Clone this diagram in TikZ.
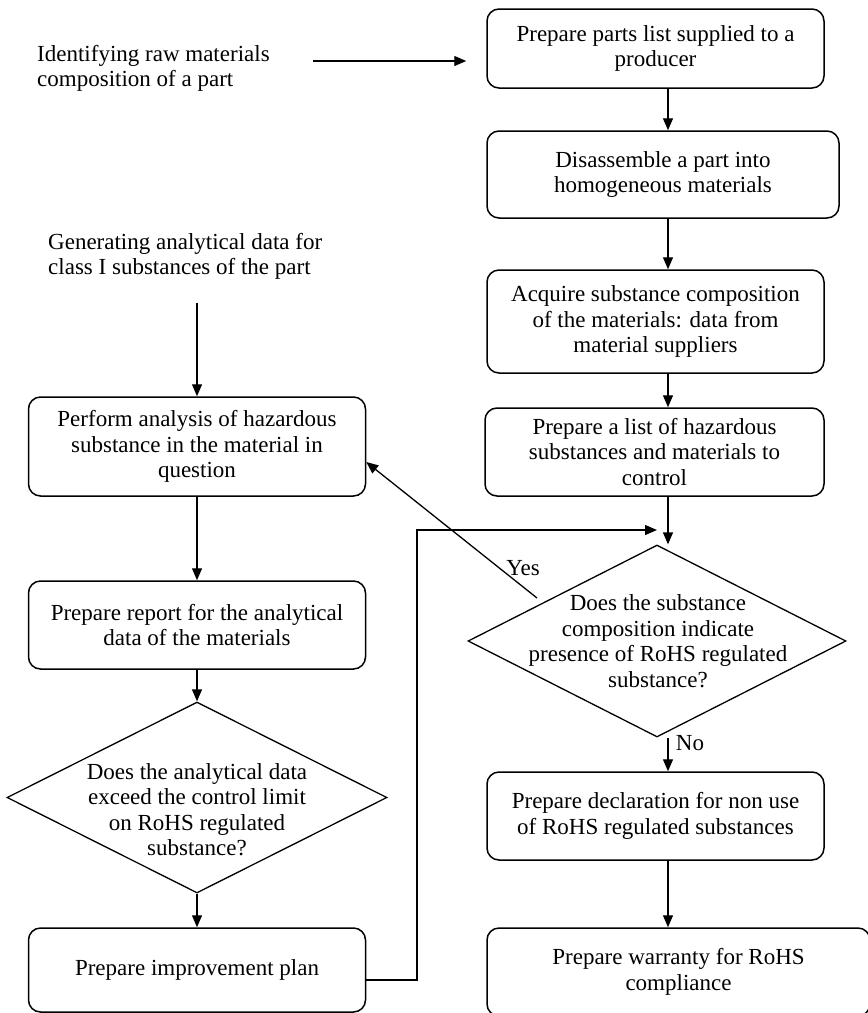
\documentclass[tikz,border=0pt]{standalone}
\usepackage{fontspec}
\setmainfont{Liberation Serif}
\usetikzlibrary{arrows.meta,shapes.geometric}
\begin{document}
\begin{tikzpicture}[x=1pt,y=-1pt,
  txt/.style={font=\fontsize{23}{25.5}\selectfont, inner sep=0pt},
  stepbox/.style={txt, draw, line width=1.5pt, rounded corners=12pt, align=center},
  decision/.style={draw, diamond, line width=1.3pt, inner sep=0pt},
  arr/.style={line width=1.3pt, -{Triangle[length=12pt,width=10pt]}}]
\useasboundingbox (0,0) rectangle (868,1013);
\clip (0,0) rectangle (868,1013);
\fill[white] (0,0) rectangle (868,1013);

% ---- right column: parts to warranty ----
\node[stepbox, minimum width=337pt, minimum height=79pt] (b1) at (655.5,48.5)
  {Prepare parts list supplied to a\\producer};
\node[stepbox, minimum width=352pt, minimum height=87pt] (b2) at (663,174.5)
  {Disassemble a part into\\homogeneous materials};
\node[stepbox, minimum width=337pt, minimum height=103pt] (b3) at (655.5,321.5)
  {Acquire substance composition\\of the materials: data from\\material suppliers};
\node[stepbox, minimum width=339pt, minimum height=88pt] (b4) at (654.5,452)
  {Prepare a list of hazardous\\substances and materials to\\control};
\node[decision, minimum width=378pt, minimum height=192pt] (d1) at (657,641) {};
\node[txt, align=center] (d1text) at (658,641)
  {Does the substance\\composition indicate\\presence of RoHS regulated\\substance?};
\node[stepbox, minimum width=337pt, minimum height=88pt] (b5) at (655.5,816)
  {Prepare declaration for non use\\of RoHS regulated substances};
\node[stepbox, minimum width=383pt, minimum height=88pt] (b6) at (678.5,972)
  {Prepare warranty for RoHS\\compliance};

% ---- left column: analysis loop ----
\node[txt, align=left, anchor=west] (raw) at (37,68.5)
  {Identifying raw materials\\composition of a part};
\node[txt, align=left, anchor=west] (gen) at (48,256.5)
  {Generating analytical data for\\class I substances of the part};
\node[stepbox, minimum width=337pt, minimum height=99pt] (perf) at (197,446.5)
  {Perform analysis of hazardous\\substance in the material in\\question};
\node[stepbox, minimum width=337pt, minimum height=88pt] (rep) at (197,625)
  {Prepare report for the analytical\\data of the materials};
\node[decision, minimum width=380pt, minimum height=191pt] (d2) at (197,797.5) {};
\node[txt, align=center] (d2text) at (197,809.5)
  {Does the analytical data\\exceed the control limit\\on RoHS regulated\\substance?};
\node[stepbox, minimum width=337pt, minimum height=84pt] (imp) at (197,970)
  {Prepare improvement plan};

% branch labels
\node[txt] (yes) at (523,568) {Yes};
\node[txt] (no) at (690,743) {No};

% connector helpers
\coordinate (cx) at (668,0);
\coordinate (rawout) at (313,61);
\coordinate (genout) at (197,303);
\coordinate (yesout) at (537,598);
\coordinate (loopx) at (417,530);
\coordinate (loopin) at (657,530);

% ---- connectors ----
\draw[arr, shorten >=20pt] (rawout) -- (rawout -| b1.west);
\draw[arr] (b1.south -| cx) -- (b2.north -| cx);
\draw[arr] (b2.south -| cx) -- (b3.north -| cx);
\draw[arr] (b3.south -| cx) -- (b4.north -| cx);
\draw[arr] (b4.south -| cx) -- (d1.north -| cx);
\draw[arr] (d1.south -| cx) -- (b5.north -| cx);
\draw[arr] (b5.south -| cx) -- (b6.north -| cx);

\draw[arr] (genout) -- (genout |- perf.north);
\draw[arr] (perf.south) -- (rep.north);
\draw[arr] (rep.south) -- (d2.north);
\draw[arr] (d2.south) -- (imp.north);

\draw[arr] (yesout) -- ([yshift=-15.5pt]perf.east);
\draw[arr] ([yshift=-10pt]imp.east) -| (loopx) -- (loopin);
\end{tikzpicture}
\end{document}
